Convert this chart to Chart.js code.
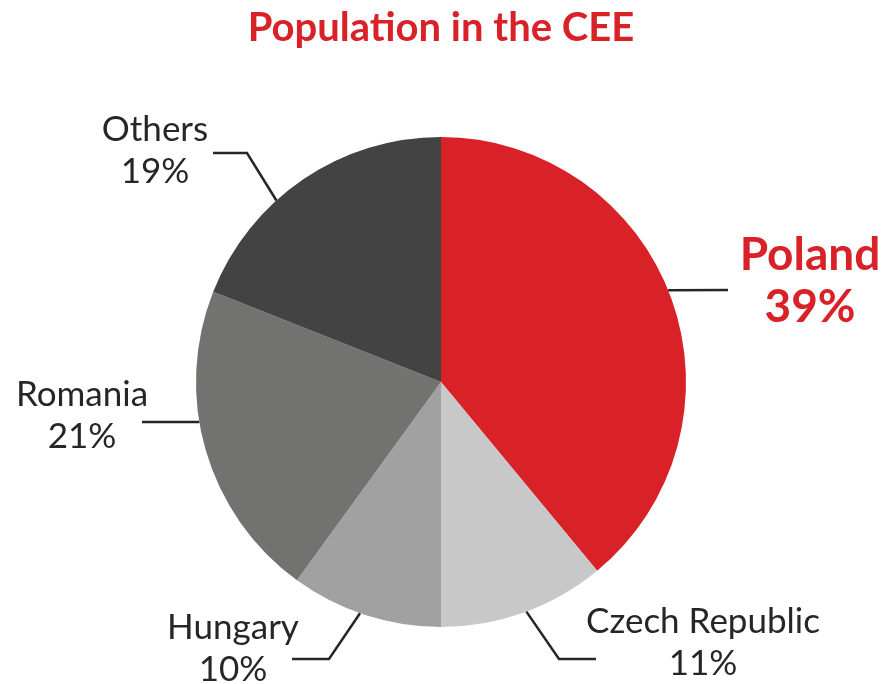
<!DOCTYPE html>
<html>
<head>
<meta charset="utf-8">
<script src="https://cdn.jsdelivr.net/npm/chart.js@4"></script>
<style>
  html, body { margin: 0; padding: 0; background: #fff; }
  #wrap { width: 882px; height: 684px; }
</style>
</head>
<body>
<div id="wrap"><canvas id="ceePie"></canvas></div>
<script>
let countries = ['Poland', 'Czech Republic', 'Hungary', 'Romania', 'Others'];
let shares = [39, 11, 10, 21, 19];
let sliceColors = ['#D92128', '#C7C8C7', '#A0A1A0', '#727271', '#434343'];

// leader lines: start angle on the rim (deg, clockwise from top), then points / text relative to centre (in px at r=245)
let callouts = [
	{ angle: 68, path: [[287, -92]], text: [369, -127], bold: true },
	{ angle: 159.6, path: [[118, 277], [155, 277]], text: [262, 240] },
	{ angle: 199.3, path: [[-112, 277], [-149, 277]], text: [-208, 246] },
	{ angle: 260.6, path: [[-299, 40]], text: [-359, 13] },
	{ angle: 317.8, path: [[-194, -229], [-228, -229]], text: [-286, -252] }
];

const calloutPlugin = {
	id: 'callouts',
	afterDraw(chart) {
		const ctx = chart.ctx;
		const arcs = chart.getDatasetMeta(0).data;
		const cx = arcs[0].x, cy = arcs[0].y, r = arcs[0].outerRadius;
		const k = r / 245;
		ctx.save();
		// title
		ctx.fillStyle = '#D92128';
		ctx.font = 'bold 40px Lato';
		ctx.textAlign = 'center';
		ctx.textBaseline = 'middle';
		ctx.fillText('Population in the CEE', cx, 28);

		callouts.forEach((c, i) => {
			const a = c.angle * Math.PI / 180;
			ctx.strokeStyle = '#262626';
			ctx.lineWidth = 2.5;
			ctx.beginPath();
			ctx.moveTo(cx + r * Math.sin(a), cy - r * Math.cos(a));
			c.path.forEach(p => ctx.lineTo(cx + p[0] * k, cy + p[1] * k));
			ctx.stroke();

			const tx = cx + c.text[0] * k, ty = cy + c.text[1] * k;
			if (c.bold) {
				ctx.fillStyle = '#D92128';
				ctx.font = 'bold 46px Lato';
				ctx.fillText(countries[i], tx, ty);
				ctx.fillText(shares[i] + '%', tx, ty + 52);
			} else {
				ctx.fillStyle = '#262626';
				ctx.font = '35px Lato';
				ctx.fillText(countries[i], tx, ty);
				ctx.fillText(shares[i] + '%', tx, ty + 42);
			}
		});
		ctx.restore();
	}
};

var ctx = document.getElementById('ceePie').getContext('2d');
var ceePie = new Chart(ctx, {
	type: 'pie',
	data: {
		labels: countries,
		datasets: [{
			data: shares,
			backgroundColor: sliceColors,
			borderWidth: 0
		}]
	},
	options: {
		responsive: true,
		maintainAspectRatio: false,
		animation: false,
		layout: { padding: { top: 137, bottom: 57, left: 196, right: 196 } },
		plugins: {
			legend: { display: false },
			tooltip: { enabled: false }
		}
	},
	plugins: [calloutPlugin]
});
</script>
</body>
</html>
